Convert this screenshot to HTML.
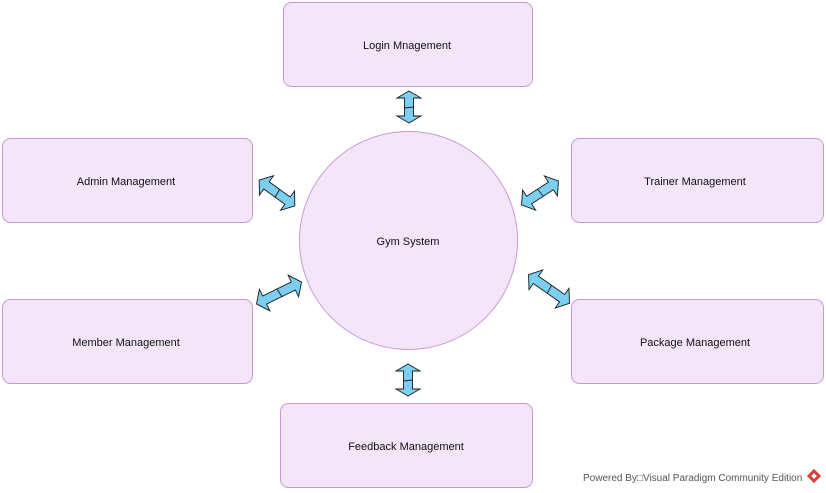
<!DOCTYPE html>
<html><head><style>
body{margin:0;background:#fff;}
svg{display:block;font-family:"Liberation Sans",sans-serif;}
</style></head><body>
<svg width="826" height="493" viewBox="0 0 826 493" xmlns="http://www.w3.org/2000/svg">
<defs>
<g id="a44"><polygon points="-22,0 -13,-12 -13,-4.5 13,-4.5 13,-12 22,0 13,12 13,4.5 -13,4.5 -13,12" fill="#7ccff2" stroke="#1a1a1a" stroke-width="0.9"/><line x1="0" y1="-4.5" x2="1" y2="4.5" stroke="#1a1a1a" stroke-width="0.9"/></g>
<g id="a32"><polygon points="-16,0 -9,-12 -9,-4.5 9,-4.5 9,-12 16,0 9,12 9,4.5 -9,4.5 -9,12" fill="#7ccff2" stroke="#1a1a1a" stroke-width="0.9"/><line x1="0" y1="-4.5" x2="1" y2="4.5" stroke="#1a1a1a" stroke-width="0.9"/></g>
<g id="a50"><polygon points="-25,0 -16,-12 -16,-4.5 16,-4.5 16,-12 25,0 16,12 16,4.5 -16,4.5 -16,12" fill="#7ccff2" stroke="#1a1a1a" stroke-width="0.9"/><line x1="0" y1="-4.5" x2="1" y2="4.5" stroke="#1a1a1a" stroke-width="0.9"/></g>
</defs>
<g fill="#f4e6f8" stroke="#c79ad6" stroke-width="1">
<rect x="283.5" y="2.5" width="249" height="84" rx="8"/>
<rect x="2.5" y="138.5" width="250" height="84" rx="8"/>
<rect x="571.5" y="138.5" width="252" height="84" rx="8"/>
<rect x="2.5" y="299.5" width="250" height="84" rx="8"/>
<rect x="571.5" y="299.5" width="252" height="84" rx="8"/>
<rect x="280.5" y="403.5" width="252" height="84" rx="8"/>
<circle cx="408.5" cy="240.5" r="109"/>
</g>
<g font-size="11" fill="#111" text-anchor="middle">
<text x="407" y="49">Login Mnagement</text>
<text x="126" y="185">Admin Management</text>
<text x="695" y="185">Trainer Management</text>
<text x="126" y="346">Member Management</text>
<text x="695" y="346">Package Management</text>
<text x="406" y="450">Feedback Management</text>
<text x="408" y="245">Gym System</text>
</g>
<use href="#a32" transform="translate(409,107) rotate(90)"/>
<use href="#a32" transform="translate(408,380) rotate(90)"/>
<use href="#a44" transform="translate(277,193) rotate(36)"/>
<use href="#a44" transform="translate(540,193) rotate(-33)"/>
<use href="#a50" transform="translate(279,293) rotate(-26)"/>
<use href="#a50" transform="translate(549,289) rotate(35)"/>
<text x="583" y="481" font-size="10" fill="#555">Powered By□Visual Paradigm Community Edition</text>
<g transform="translate(814,476) rotate(45)"><rect x="-5" y="-5" width="10" height="10" fill="#d9403a"/><rect x="-2" y="-2" width="4" height="4" fill="#fff"/></g>
</svg>
</body></html>
